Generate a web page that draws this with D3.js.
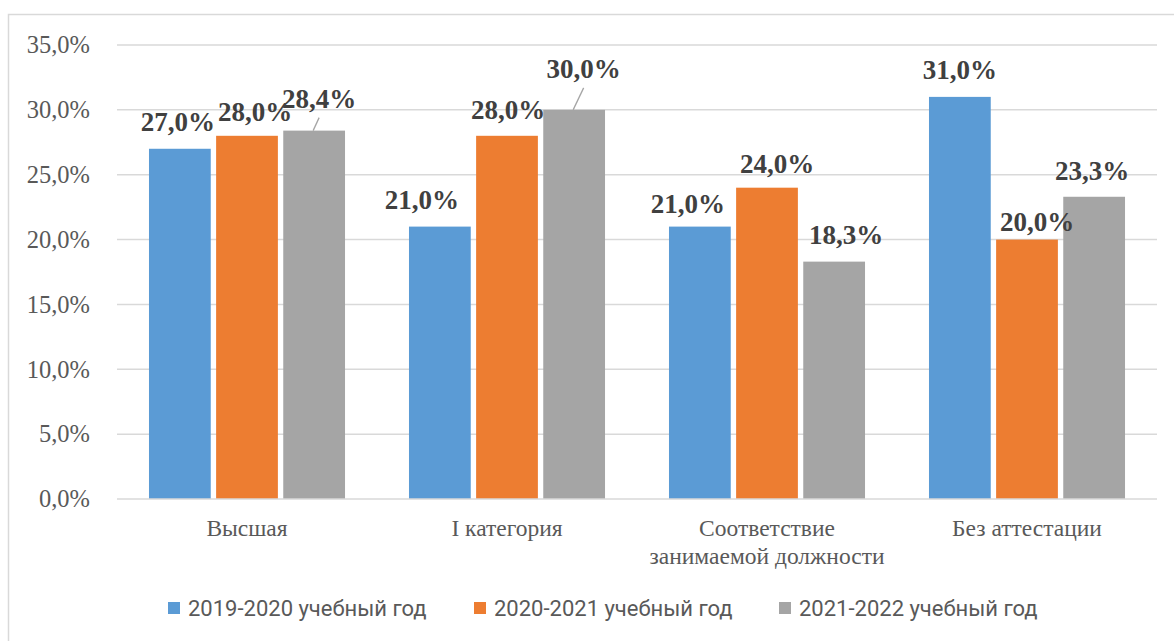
<!DOCTYPE html>
<html><head><meta charset="utf-8">
<script src="https://cdn.jsdelivr.net/npm/d3@7"></script>
<style>body{margin:0;background:#fff}svg{display:block}
.serif{font-family:"Liberation Serif","Times New Roman",serif}
.leg{font-family:Roboto,"Liberation Sans",sans-serif}
</style>
</head><body>
<svg id="c" width="1174" height="641"></svg>
<script>
const categories = [["Высшая"], ["I категория"], ["Соответствие", "занимаемой должности"], ["Без аттестации"]];
const seriesNames = ["2019-2020 учебный год", "2020-2021 учебный год", "2021-2022 учебный год"];
const s2019 = [27.0, 21.0, 21.0, 31.0];
const s2020 = [28.0, 28.0, 24.0, 20.0];
const s2021 = [28.4, 30.0, 18.3, 23.3];
const yTicks = [0, 5, 10, 15, 20, 25, 30, 35];
const colors = ["#5b9bd5", "#ed7d31", "#a5a5a5"];

const series = [s2019, s2020, s2021];
const svg = d3.select("#c");
svg.append("rect").attr("x", 8.5).attr("y", 14.5).attr("width", 1180).attr("height", 640)
  .attr("fill", "#fff").attr("stroke", "#d9d9d9").attr("stroke-width", 1.5);

const x0 = d3.scaleBand().domain(d3.range(categories.length)).range([117, 1157]).paddingInner(0.246).paddingOuter(0.123);
const x1 = d3.scaleBand().domain(d3.range(series.length)).range([0, x0.bandwidth()]).paddingInner(0.08);
const y = d3.scaleLinear().domain([0, 35]).range([499, 45]);

svg.append("g").selectAll("line").data(yTicks.filter(t => t > 0)).join("line")
  .attr("x1", 117).attr("x2", 1157).attr("y1", d => y(d)).attr("y2", d => y(d))
  .attr("stroke", "#d9d9d9").attr("stroke-width", 1.5);

const fmt = v => d3.format(".1f")(v).replace(".", ",") + "%";
const yAxis = d3.axisLeft(y).tickValues(yTicks).tickSize(0).tickPadding(0).tickFormat(fmt);
const ga = svg.append("g").attr("transform", "translate(90,0)").call(yAxis)
  .attr("font-family", null).attr("font-size", null);
ga.select(".domain").remove();
ga.selectAll("text").attr("class", "serif").style("font-size", "24.5px").attr("fill", "#595959");

const groups = svg.append("g").selectAll("g").data(categories).join("g")
  .attr("transform", (d, i) => `translate(${x0(i)},0)`);
groups.selectAll("rect").data((d, i) => series.map((s, j) => ({ j, v: s[i] }))).join("rect")
  .attr("x", d => x1(d.j)).attr("width", x1.bandwidth())
  .attr("y", d => y(d.v)).attr("height", d => y(0) - y(d.v))
  .attr("fill", d => colors[d.j]);

svg.append("line").attr("x1", 117).attr("x2", 1157).attr("y1", y(0)).attr("y2", y(0))
  .attr("stroke", "#d9d9d9").attr("stroke-width", 1.5);

const cl = svg.append("g").selectAll("text").data(categories).join("text")
  .attr("class", "serif")
  .attr("x", (d, i) => x0(i) + x0.bandwidth() / 2).attr("y", 536)
  .attr("text-anchor", "middle").style("font-size", "23.5px").attr("fill", "#595959");
cl.selectAll("tspan").data(d => d).join("tspan")
  .attr("x", function () { return this.parentNode.getAttribute("x"); })
  .attr("dy", (d, k) => k === 0 ? 0 : 28).text(d => d);

// label placement tweaks: [dx, baseline offset above bar top, leader line]
const nudge = {
  "0-0": [-2, 18], "0-1": [8, 15], "0-2": [5, 23, true],
  "1-0": [-18, 18], "1-1": [1, 17], "1-2": [9.5, 32, true],
  "2-0": [-12, 14], "2-1": [10, 15], "2-2": [12, 18],
  "3-0": [0, 18], "3-1": [10, 9], "3-2": [-2, 17]
};
const labels = [];
categories.forEach((c, i) => series.forEach((s, j) => labels.push({ i, j, v: s[i] })));
const lg = svg.append("g");
labels.forEach(d => {
  const cx = x0(d.i) + x1(d.j) + x1.bandwidth() / 2;
  const top = y(d.v);
  const n = nudge[d.i + "-" + d.j] || [0, 17, false];
  const lx = cx + n[0], ly = top - n[1];
  if (n[2]) {
    lg.append("line").attr("x1", cx - 1).attr("y1", top).attr("x2", lx).attr("y2", ly + 10)
      .attr("stroke", "#a5a5a5").attr("stroke-width", 1.3);
  }
  lg.append("text").attr("class", "serif").attr("x", lx).attr("y", ly).attr("text-anchor", "middle")
    .style("font-weight", "bold").style("font-size", "27px").attr("fill", "#404040").text(fmt(d.v));
});

const legX = [168, 474, 779];
const leg = svg.append("g").selectAll("g").data(seriesNames).join("g")
  .attr("transform", (d, i) => `translate(${legX[i]},0)`);
leg.append("rect").attr("x", 0).attr("y", 602).attr("width", 12).attr("height", 12).attr("fill", (d, i) => colors[i]);
leg.append("text").attr("class", "leg").attr("x", 20).attr("y", 616)
  .style("font-size", "22px").attr("fill", "#595959").text(d => d);
</script>
</body></html>
